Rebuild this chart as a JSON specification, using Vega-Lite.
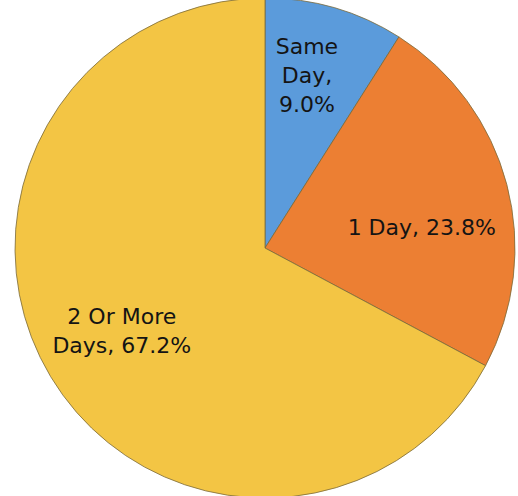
{
  "$schema": "https://vega.github.io/schema/vega-lite/v6.json",
  "width": 518,
  "height": 496,
  "autosize": {"type": "fit", "contains": "padding"},
  "padding": {"left": 12, "right": 0, "top": 0, "bottom": 0},
  "background": "white",
  "config": {"view": {"stroke": null}, "text": {"font": "DejaVu Sans", "fontSize": 22, "lineHeight": 29, "lineBreak": "\n"}},
  "data": {"values": [
    {"cat": "Same Day", "idx": 1, "value": 9.0, "label": "Same\nDay,\n9.0%"},
    {"cat": "1 Day", "idx": 2, "value": 23.8, "label": "1 Day, 23.8%"},
    {"cat": "2 Or More Days", "idx": 3, "value": 67.2, "label": "2 Or More\nDays, 67.2%"}
  ]},
  "encoding": {
    "theta": {"field": "value", "type": "quantitative", "stack": true},
    "order": {"field": "idx", "type": "quantitative"}
  },
  "layer": [
    {
      "mark": {"type": "arc", "radius": 250, "stroke": "#7a6a3a", "strokeWidth": 0.8},
      "encoding": {
        "color": {"field": "cat", "type": "nominal", "legend": null,
          "scale": {"domain": ["Same Day", "1 Day", "2 Or More Days"], "range": ["#5B9BDB", "#EC7F33", "#F3C544"]}}
      }
    },
    {
      "mark": {"type": "text", "radius": 179, "dy": -29, "dx": -8, "align": "center", "baseline": "middle", "color": "#141414"},
      "encoding": {"text": {"condition": {"test": "datum.cat === 'Same Day'", "field": "label"}, "value": ""}}
    },
    {
      "mark": {"type": "text", "radius": 158, "dy": 20, "dx": 4, "align": "center", "baseline": "middle", "color": "#141414"},
      "encoding": {"text": {"condition": {"test": "datum.cat === '1 Day'", "field": "label"}, "value": ""}}
    },
    {
      "mark": {"type": "text", "radius": 167, "dy": -17, "align": "center", "baseline": "middle", "color": "#141414"},
      "encoding": {"text": {"condition": {"test": "datum.cat === '2 Or More Days'", "field": "label"}, "value": ""}}
    }
  ]
}
